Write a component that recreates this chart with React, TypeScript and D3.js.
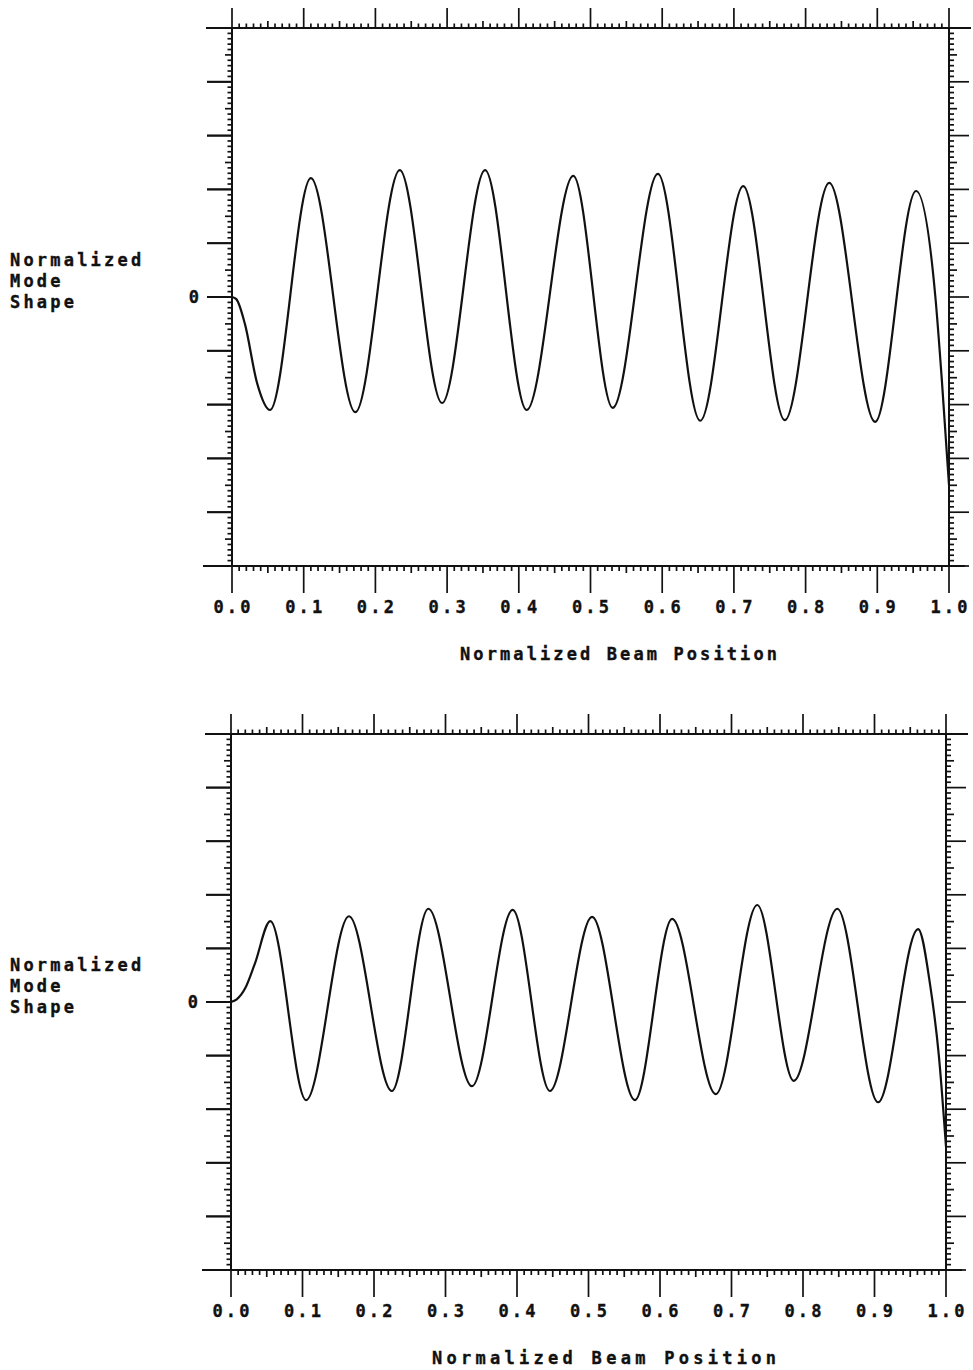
import React from "react";
import * as d3 from "d3";

// Horizontal axis: normalized position along the beam
const X_TICK_VALUES = [0, 0.1, 0.2, 0.3, 0.4, 0.5, 0.6, 0.7, 0.8, 0.9, 1.0];
const X_TICK_LABELS = ["0.0", "0.1", "0.2", "0.3", "0.4", "0.5", "0.6", "0.7", "0.8", "0.9", "1.0"];
const X_TITLE = "Normalized Beam Position";

// Vertical axis: unlabeled majors except the zero line
const Y_MAJOR_VALUES = [-5, -4, -3, -2, -1, 0, 1, 2, 3, 4, 5];
const Y_LABEL_VALUES = [0];
const Y_LABEL_TEXTS = ["0"];
const Y_TITLE_LINES = ["Normalized", "Mode", "Shape"];

// Upper panel mode shape (position, amplitude)
const upperModeX = [
  0, 0.006, 0.018, 0.035, 0.053, 0.110, 0.172, 0.234, 0.293, 0.353, 0.411, 0.476,
  0.531, 0.594, 0.653, 0.713, 0.771, 0.833, 0.897, 0.954, 0.981, 0.990, 1.0,
];
const upperModeY = [
  0, -0.04, -0.5, -1.6, -2.10, 2.21, -2.14, 2.36, -1.97, 2.36, -2.10, 2.25,
  -2.06, 2.29, -2.30, 2.06, -2.29, 2.12, -2.32, 1.97, 0, -1.54, -3.5,
];

// Lower panel mode shape (position, amplitude)
const lowerModeX = [
  0, 0.008, 0.020, 0.033, 0.055, 0.105, 0.165, 0.225, 0.276, 0.337, 0.394,
  0.446, 0.505, 0.565, 0.617, 0.678, 0.736, 0.787, 0.848, 0.905, 0.961,
  0.978, 0.990, 1.0,
];
const lowerModeY = [
  0, 0.05, 0.26, 0.7, 1.51, -1.83, 1.60, -1.66, 1.74, -1.57, 1.72,
  -1.66, 1.59, -1.83, 1.55, -1.72, 1.81, -1.47, 1.74, -1.87, 1.36,
  0.3, -1.0, -2.7,
];

type Frame = {
  left: number;
  right: number;
  top: number;
  bottom: number;
  titleX: number;
  titleWidth: number;
};

const FONT = "'DejaVu Sans Mono', monospace";
const FONT_SIZE = 17;
const LETTER_SPACING = 3.2;
const INK = "#111";

function Panel({ frame, xs, ys }: { frame: Frame; xs: number[]; ys: number[] }) {
  const { left, right, top, bottom, titleX, titleWidth } = frame;
  const x = d3.scaleLinear().domain([0, 1]).range([left, right]);
  const y = d3.scaleLinear().domain([-5, 5]).range([bottom, top]);

  const points: [number, number][] = xs.map((v, i) => [v, ys[i]]);
  const path =
    d3
      .line<[number, number]>()
      .x((d) => x(d[0]))
      .y((d) => y(d[1]))
      .curve(d3.curveMonotoneX)(points) ?? "";

  // hundredths along x, tenths along y
  const xSteps = d3.range(0, 101);
  const ySteps = d3.range(-50, 51);
  const len = (i: number, major: number, mid: number, minor: number) =>
    i % 10 === 0 ? major : Math.abs(i % 5) === 0 ? mid : minor;

  const textProps = {
    fontFamily: FONT,
    fontWeight: 700,
    fontSize: FONT_SIZE,
    letterSpacing: LETTER_SPACING,
    fill: INK,
    stroke: INK,
    strokeWidth: 0.35,
  };

  const zeroY = y(0);

  return (
    <g>
      {/* frame */}
      <line x1={left - 26} x2={right + 22} y1={top} y2={top} stroke={INK} strokeWidth={2} />
      <line x1={left - 29} x2={right + 16} y1={bottom} y2={bottom} stroke={INK} strokeWidth={2} />
      <line x1={left} x2={left} y1={top} y2={bottom} stroke={INK} strokeWidth={2} />
      <line x1={right} x2={right} y1={top} y2={bottom} stroke={INK} strokeWidth={2} />

      {/* x ticks, top (outward) and bottom (outward) */}
      {xSteps.map((i) => {
        const px = x(i / 100);
        return (
          <g key={`xt${i}`} stroke={INK} strokeWidth={1.7}>
            <line x1={px} x2={px} y1={top} y2={top - len(i, 20, 7, 4.5)} />
            <line x1={px} x2={px} y1={bottom} y2={bottom + len(i, 27, 7, 5)} />
          </g>
        );
      })}

      {/* y ticks, left and right (outward) */}
      {ySteps.map((i) => {
        const py = y(i / 10);
        return (
          <g key={`yt${i}`} stroke={INK} strokeWidth={1.7}>
            <line x1={left} x2={left - len(i, 25, 7, 4.5)} y1={py} y2={py} />
            <line x1={right} x2={right + len(i, 20, 8, 5)} y1={py} y2={py} />
          </g>
        );
      })}
      {Y_MAJOR_VALUES.map((v) => (
        <line key={`ym${v}`} x1={left - 25} x2={left} y1={y(v)} y2={y(v)} stroke={INK} strokeWidth={2} />
      ))}

      {/* tick labels */}
      {X_TICK_VALUES.map((v, i) => (
        <text key={`xl${i}`} x={x(v) + LETTER_SPACING / 2} y={bottom + 47} textAnchor="middle" {...textProps}>
          {X_TICK_LABELS[i]}
        </text>
      ))}
      {Y_LABEL_VALUES.map((v, i) => (
        <text key={`yl${i}`} x={left - 33 + LETTER_SPACING} y={y(v) + 6} textAnchor="end" {...textProps}>
          {Y_LABEL_TEXTS[i]}
        </text>
      ))}

      {/* axis titles */}
      <text
        x={titleX}
        y={bottom + 94}
        textLength={titleWidth}
        lengthAdjust="spacing"
        {...textProps}
        letterSpacing={0}
      >
        {X_TITLE}
      </text>
      {Y_TITLE_LINES.map((t, i) => (
        <text key={`yt-${i}`} x={10} y={zeroY - 31 + i * 21} {...textProps}>
          {t}
        </text>
      ))}

      {/* mode shape */}
      <path d={path} fill="none" stroke={INK} strokeWidth={2.2} strokeLinejoin="round" />
    </g>
  );
}

export default function App() {
  return (
    <svg
      width={973}
      height={1370}
      viewBox="0 0 973 1370"
      style={{ position: "absolute", left: 0, top: 0, background: "#fff", display: "block" }}
    >
      <rect x={0} y={0} width={973} height={1370} fill="#fff" />
      <Panel
        frame={{ left: 232, right: 949, top: 28, bottom: 566, titleX: 460, titleWidth: 317 }}
        xs={upperModeX}
        ys={upperModeY}
      />
      <Panel
        frame={{ left: 231, right: 946, top: 734, bottom: 1270, titleX: 432, titleWidth: 344 }}
        xs={lowerModeX}
        ys={lowerModeY}
      />
    </svg>
  );
}
